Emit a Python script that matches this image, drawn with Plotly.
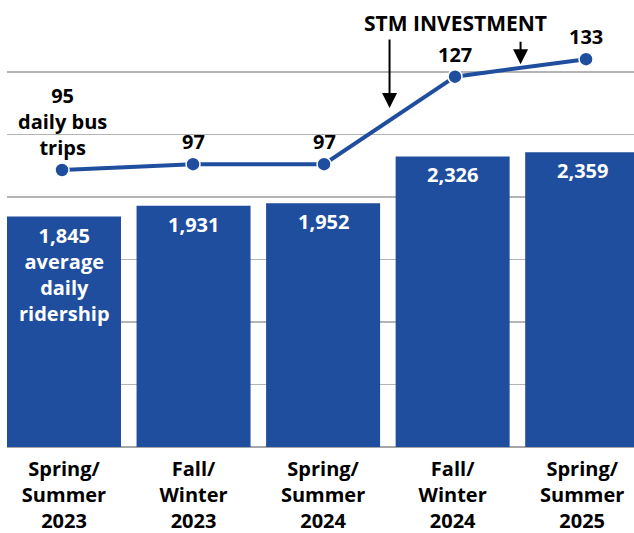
import plotly.graph_objects as go

# ---- data ----
periods = ["Spring/<br>Summer<br>2023", "Fall/<br>Winter<br>2023", "Spring/<br>Summer<br>2024",
           "Fall/<br>Winter<br>2024", "Spring/<br>Summer<br>2025"]
ridership = [1845, 1931, 1952, 2326, 2359]
ridership_labels = ["1,845<br>average<br>daily<br>ridership", "1,931", "1,952", "2,326", "2,359"]
bus_trips = [95, 97, 97, 127, 133]
trip_labels = ["95<br>daily bus<br>trips", "97", "97", "127", "133"]
investment_label = "STM INVESTMENT"
investment_between = [2.5, 3.5]   # investments fall between these periods

BLUE = "#1F4E9F"
FONT = "Open Sans"
FS = 20
idx = list(range(len(periods)))

fig = go.Figure()
fig.add_trace(go.Bar(
    x=idx, y=ridership, marker=dict(color=BLUE, line=dict(width=0)),
    width=0.88, hoverinfo="skip", xaxis="x", yaxis="y",
))
fig.add_trace(go.Scatter(
    x=idx, y=bus_trips, mode="lines+markers",
    line=dict(color=BLUE, width=4),
    marker=dict(size=14, color=BLUE, line=dict(color="white", width=1.5)),
    xaxis="x2", yaxis="y2", hoverinfo="skip",
))

ann = []
for i, (v, t) in enumerate(zip(ridership, ridership_labels)):
    ann.append(dict(x=i, y=v, xref="x", yref="y", text=t, showarrow=False,
                    yanchor="top", yshift=-3,
                    font=dict(family=FONT, size=FS, color="white", weight=700)))
for i, (v, t) in enumerate(zip(bus_trips, trip_labels)):
    ann.append(dict(x=i, y=v, xref="x2", yref="y2", text=t, showarrow=False,
                    yanchor="bottom", yshift=7,
                    font=dict(family=FONT, size=FS, color="black", weight=700)))

# investment arrows
ann.append(dict(x=3, y=0.968, xref="x2", yref="paper", text=investment_label, showarrow=False,
                yanchor="middle", font=dict(family=FONT, size=21, color="black", weight=700)))
arrow_tips = [0.774, 0.874]
arrow_tails = [-70, -24]
for xb, tip, tail in zip(investment_between, arrow_tips, arrow_tails):
    ann.append(dict(x=xb, y=tip, xref="x2", yref="paper", text="", showarrow=True,
                    ax=0, ay=tail, arrowhead=2, arrowsize=1.5, arrowwidth=2,
                    arrowcolor="black", standoff=0))

fig.update_layout(
    width=634, height=533,
    margin=dict(l=7, r=0, t=9, b=86, pad=0, autoexpand=False),
    paper_bgcolor="white", plot_bgcolor="white",
    showlegend=False,
    annotations=ann,
    xaxis=dict(range=[-0.44, 4.40], tickvals=idx, ticktext=periods, showgrid=False,
               zeroline=False, showline=False, ticks="", ticklabelstandoff=8, automargin=False,
               tickfont=dict(family=FONT, size=20, color="black", weight=700)),
    xaxis2=dict(range=[-0.42, 4.366], overlaying="x", visible=False),
    yaxis=dict(range=[0, 3506], dtick=500, showticklabels=False, showgrid=True,
               gridcolor="#B4B4B4", gridwidth=1.5, zeroline=True, zerolinecolor="#A6A6A6",
               zerolinewidth=2.5, showline=False, ticks="", automargin=False),
    yaxis2=dict(range=[0, 150.2], overlaying="y", visible=False),
)

fig.write_html("out.html", config={"displayModeBar": False, "staticPlot": True},
               post_script="document.body.style.margin='0px';document.body.style.overflow='hidden';")
